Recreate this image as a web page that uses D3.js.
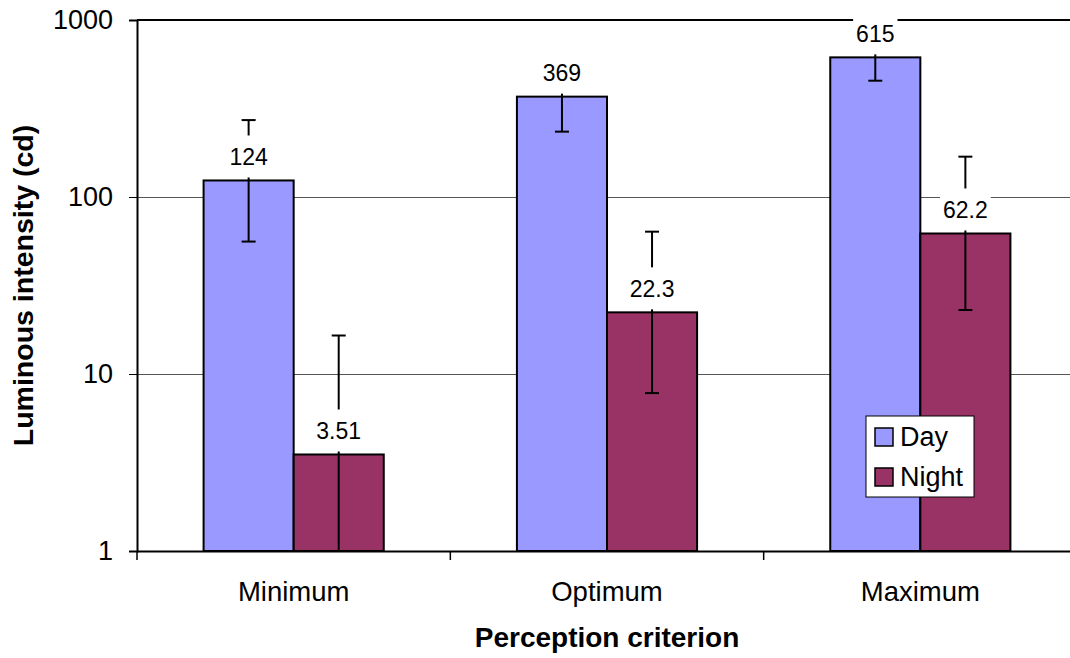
<!DOCTYPE html>
<html>
<head>
<meta charset="utf-8">
<script src="https://d3js.org/d3.v7.min.js"></script>
<style>
  body { margin: 0; background: white; }
  text { font-family: Arial, "Liberation Sans", sans-serif; }
</style>
</head>
<body>
<div id="chart"></div>
<script>
// categories and series
var categories = ["Minimum", "Optimum", "Maximum"]
var series = ["Day", "Night"]
var seriesColors = ["#9999ff", "#993366"]

// bar values (cd), one array per series
var dayValues = [124, 369, 615]
var nightValues = [3.51, 22.3, 62.2]
// error bar ends
var dayErrHigh = [272, 582, 833]
var dayErrLow = [56, 234, 454]
var nightErrHigh = [16.5, 63.7, 169]
var nightErrLow = [0.75, 7.8, 23]

var yTicks = [1, 10, 100, 1000]

// dimensions
var W = 1070, H = 658
var margin = {top: 20, right: -7, bottom: 107, left: 137},
  width = W - margin.left - margin.right,
  height = H - margin.top - margin.bottom;

var svg = d3.select("#chart")
  .append("svg")
    .attr("width", W)
    .attr("height", H)
var chart = svg.append("g")
    .attr("transform", "translate(" + margin.left + "," + margin.top + ")");

// scales
var x = d3.scaleBand()
  .domain(categories)
  .range([0, width])
  .padding(0)
var groupW = x.bandwidth() * 0.575
var x1 = d3.scaleBand()
  .domain(series)
  .range([(x.bandwidth() - groupW) / 2, (x.bandwidth() + groupW) / 2])
  .padding(0)
var y = d3.scaleLog()
  .domain([1, 1000])
  .range([height, 0])
  .clamp(true)

// build rows
var data = []
categories.forEach(function(c, i) {
  data.push({cat: c, s: "Day", v: dayValues[i], hi: dayErrHigh[i], lo: dayErrLow[i], color: seriesColors[0]})
  data.push({cat: c, s: "Night", v: nightValues[i], hi: nightErrHigh[i], lo: nightErrLow[i], color: seriesColors[1]})
})

// gridlines
chart.append("g")
  .selectAll("line")
  .data([10, 100])
  .enter()
  .append("line")
    .attr("x1", 0)
    .attr("x2", width)
    .attr("y1", function(d) { return y(d) })
    .attr("y2", function(d) { return y(d) })
    .attr("stroke", "#555")
    .attr("stroke-width", 1)
    .attr("shape-rendering", "crispEdges")

// top border
chart.append("line")
  .attr("x1", 0).attr("x2", width)
  .attr("y1", y(1000)).attr("y2", y(1000))
  .attr("stroke", "#000")
  .attr("stroke-width", 2)

// bars
chart.append("g")
  .selectAll("rect")
  .data(data)
  .enter()
  .append("rect")
    .attr("x", function(d) { return x(d.cat) + x1(d.s) })
    .attr("y", function(d) { return y(d.v) })
    .attr("width", x1.bandwidth())
    .attr("height", function(d) { return height - y(d.v) })
    .attr("fill", function(d) { return d.color })
    .attr("stroke", "#000")
    .attr("stroke-width", 2)

// error bars
var capW = 14
var eb = chart.append("g")
  .selectAll("g")
  .data(data)
  .enter()
  .append("g")
    .attr("stroke", "#000")
    .attr("stroke-width", 2)
eb.append("line")
  .attr("x1", function(d) { return x(d.cat) + x1(d.s) + x1.bandwidth() / 2 })
  .attr("x2", function(d) { return x(d.cat) + x1(d.s) + x1.bandwidth() / 2 })
  .attr("y1", function(d) { return y(d.hi) })
  .attr("y2", function(d) { return y(d.lo) })
eb.append("line")
  .attr("x1", function(d) { return x(d.cat) + x1(d.s) + x1.bandwidth() / 2 - capW / 2 })
  .attr("x2", function(d) { return x(d.cat) + x1(d.s) + x1.bandwidth() / 2 + capW / 2 })
  .attr("y1", function(d) { return y(d.hi) })
  .attr("y2", function(d) { return y(d.hi) })
eb.append("line")
  .attr("x1", function(d) { return x(d.cat) + x1(d.s) + x1.bandwidth() / 2 - capW / 2 })
  .attr("x2", function(d) { return x(d.cat) + x1(d.s) + x1.bandwidth() / 2 + capW / 2 })
  .attr("y1", function(d) { return y(d.lo) })
  .attr("y2", function(d) { return y(d.lo) })

// y axis
var yAxis = chart.append("g")
  .call(d3.axisLeft(y).tickValues(yTicks).tickFormat(d3.format("d")).tickSize(8).tickPadding(16))
yAxis.select(".domain").attr("stroke-width", 2)
yAxis.selectAll(".tick line").attr("stroke-width", 1)
yAxis.selectAll(".tick text")
  .attr("font-size", "27px")
  .attr("font-family", "Arial, 'Liberation Sans', sans-serif")
  .attr("fill", "#000")

// x axis
var xAxis = chart.append("g")
  .attr("transform", "translate(0," + height + ")")
  .call(d3.axisBottom(x).tickSize(0).tickPadding(30))
xAxis.select(".domain").attr("stroke-width", 2)
xAxis.selectAll(".tick text")
  .attr("font-size", "27.5px")
  .attr("font-family", "Arial, 'Liberation Sans', sans-serif")
  .attr("fill", "#000")
// category separator ticks
xAxis.append("g")
  .selectAll("line")
  .data(categories)
  .enter()
  .append("line")
    .attr("x1", function(d) { return x(d) })
    .attr("x2", function(d) { return x(d) })
    .attr("y1", 0)
    .attr("y2", 9)
    .attr("stroke", "#000")
    .attr("stroke-width", 1.5)

// data labels with white boxes
var lab = chart.append("g")
  .selectAll("g")
  .data(data)
  .enter()
  .append("g")
    .attr("transform", function(d) {
      return "translate(" + (x(d.cat) + x1(d.s) + x1.bandwidth() / 2) + "," + (y(d.v) - 24) + ")"
    })
var labRect = lab.append("rect").attr("fill", "#fff")
var labText = lab.append("text")
  .attr("text-anchor", "middle")
  .attr("dy", "0.36em")
  .attr("font-size", "23px")
  .attr("fill", "#000")
  .text(function(d) { return d3.format("")(d.v) })
labText.each(function() {
  var w = this.getComputedTextLength()
  d3.select(this.parentNode).select("rect")
    .attr("x", -w / 2 - 3)
    .attr("width", w + 6)
    .attr("y", -21)
    .attr("height", 42)
})

// axis titles
svg.append("text")
  .attr("x", margin.left + width / 2)
  .attr("y", 647)
  .attr("text-anchor", "middle")
  .attr("font-size", "28px")
  .attr("font-weight", "bold")
  .text("Perception criterion")
svg.append("text")
  .attr("transform", "translate(33," + (margin.top + height / 2) + ") rotate(-90)")
  .attr("text-anchor", "middle")
  .attr("font-size", "28.5px")
  .attr("font-weight", "bold")
  .text("Luminous intensity (cd)")

// legend
var legend = svg.append("g").attr("transform", "translate(866,416)")
legend.append("rect")
  .attr("width", 108)
  .attr("height", 81)
  .attr("fill", "#fff")
  .attr("stroke", "#000")
  .attr("stroke-width", 1)
var li = legend.selectAll("g.item")
  .data(series)
  .enter()
  .append("g")
    .attr("class", "item")
    .attr("transform", function(d, i) { return "translate(9," + (12 + i * 40) + ")" })
li.append("rect")
  .attr("width", 18)
  .attr("height", 18)
  .attr("fill", function(d, i) { return seriesColors[i] })
  .attr("stroke", "#000")
  .attr("stroke-width", 1.5)
li.append("text")
  .attr("x", 25)
  .attr("y", 18)
  .attr("font-size", "27px")
  .attr("fill", "#000")
  .text(function(d) { return d })
</script>
</body>
</html>
